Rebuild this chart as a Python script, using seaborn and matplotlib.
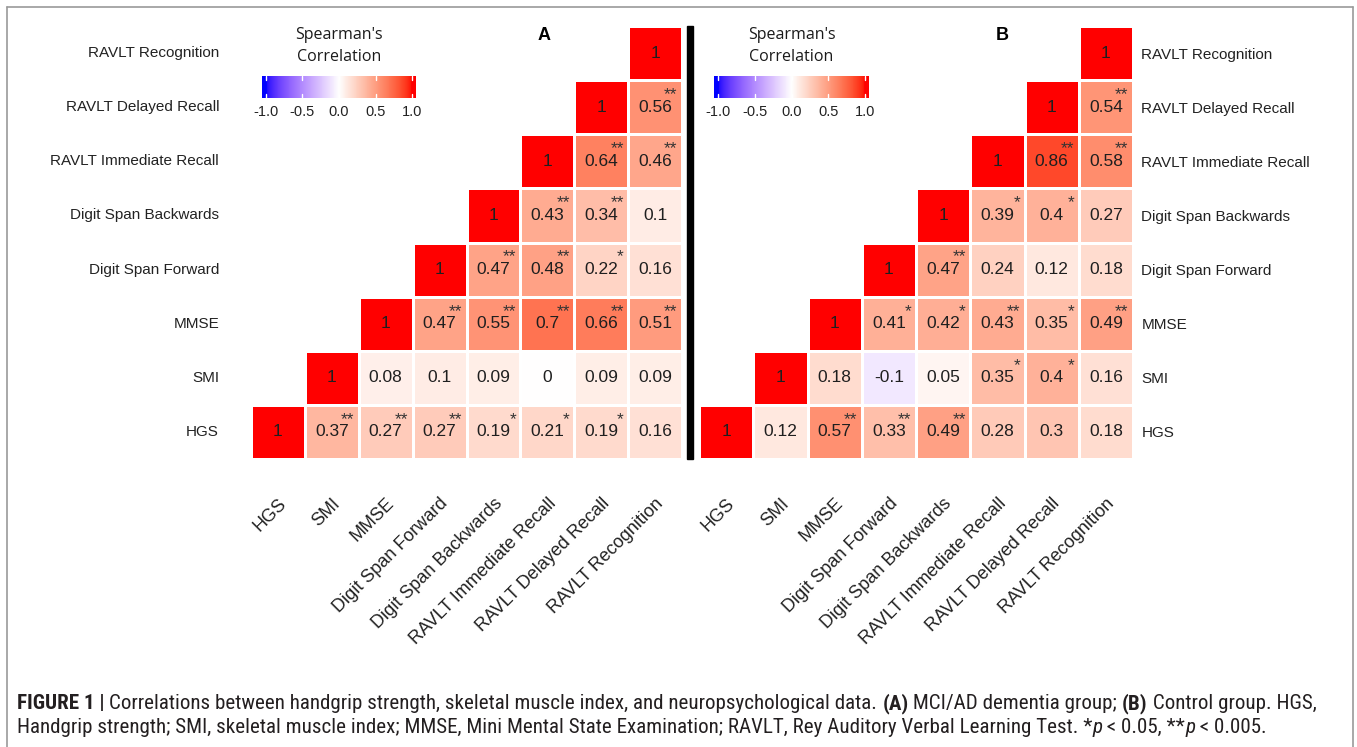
import numpy as np
import pandas as pd
import seaborn as sns
import matplotlib
matplotlib.use("Agg")
import matplotlib.pyplot as plt
from matplotlib import font_manager
from matplotlib.colors import ListedColormap
from matplotlib.lines import Line2D
from matplotlib.patches import Rectangle

# variables, from HGS (bottom row / first column) up to RAVLT Recognition
variables = ["HGS", "SMI", "MMSE", "Digit Span Forward", "Digit Span Backwards",
             "RAVLT Immediate Recall", "RAVLT Delayed Recall", "RAVLT Recognition"]

# each row starts at the diagonal and goes right
corr_a = [
    [1, 0.37, 0.27, 0.27, 0.19, 0.21, 0.19, 0.16],
    [1, 0.08, 0.1, 0.09, 0, 0.09, 0.09],
    [1, 0.47, 0.55, 0.7, 0.66, 0.51],
    [1, 0.47, 0.48, 0.22, 0.16],
    [1, 0.43, 0.34, 0.1],
    [1, 0.64, 0.46],
    [1, 0.56],
    [1],
]
stars_a = [
    ["", "**", "**", "**", "*", "*", "*", ""],
    ["", "", "", "", "", "", ""],
    ["", "**", "**", "**", "**", "**"],
    ["", "**", "**", "*", ""],
    ["", "**", "**", ""],
    ["", "**", "**"],
    ["", "**"],
    [""],
]

corr_b = [
    [1, 0.12, 0.57, 0.33, 0.49, 0.28, 0.3, 0.18],
    [1, 0.18, -0.1, 0.05, 0.35, 0.4, 0.16],
    [1, 0.41, 0.42, 0.43, 0.35, 0.49],
    [1, 0.47, 0.24, 0.12, 0.18],
    [1, 0.39, 0.4, 0.27],
    [1, 0.86, 0.58],
    [1, 0.54],
    [1],
]
stars_b = [
    ["", "", "**", "**", "**", "", "", ""],
    ["", "", "", "", "*", "*", ""],
    ["", "*", "*", "**", "*", "**"],
    ["", "**", "", "", ""],
    ["", "*", "*", ""],
    ["", "**", "**"],
    ["", "**"],
    [""],
]

cbar_ticks = [-1.0, -0.5, 0.0, 0.5, 1.0]

caption_1 = [("FIGURE 1 | ", "bold", "normal"),
             ("Correlations between handgrip strength, skeletal muscle index, and neuropsychological data. ", "normal", "normal"),
             ("(A)", "bold", "normal"), (" MCI/AD dementia group; ", "normal", "normal"),
             ("(B)", "bold", "normal"), (" Control group. HGS,", "normal", "normal")]
caption_2 = [("Handgrip strength; SMI, skeletal muscle index; MMSE, Mini Mental State Examination; RAVLT, Rey Auditory Verbal Learning Test. *", "normal", "normal"),
             ("p", "normal", "italic"), (" < 0.05, **", "normal", "normal"),
             ("p", "normal", "italic"), (" < 0.005.", "normal", "normal")]

W, H = 1357, 747


def box(l, t, r, b):
    return [l / W, 1 - b / H, (r - l) / W, (b - t) / H]


# blue - white - red ramp interpolated in CIELAB (like ggplot's gradient2)
M = np.array([[0.4124, 0.3576, 0.1805], [0.2126, 0.7152, 0.0722], [0.0193, 0.1192, 0.9505]])
WHITE = np.array([0.95047, 1.0, 1.08883])


def to_lab(rgb):
    c = np.array(rgb, float)
    lin = np.where(c <= 0.04045, c / 12.92, ((c + 0.055) / 1.055) ** 2.4)
    xyz = M @ lin / WHITE
    f = np.where(xyz > 0.008856, np.cbrt(xyz), 7.787 * xyz + 16 / 116)
    return np.array([116 * f[1] - 16, 500 * (f[0] - f[1]), 200 * (f[1] - f[2])])


def from_lab(lab):
    fy = (lab[0] + 16) / 116
    f = np.array([fy + lab[1] / 500, fy, fy - lab[2] / 200])
    xyz = np.where(f ** 3 > 0.008856, f ** 3, (f - 16 / 116) / 7.787) * WHITE
    lin = np.clip(np.linalg.solve(M, xyz), 0, 1)
    c = np.where(lin <= 0.0031308, 12.92 * lin, 1.055 * lin ** (1 / 2.4) - 0.055)
    return np.clip(c, 0, 1)


lab_blue, lab_white, lab_red = to_lab([0, 0, 1]), to_lab([1, 1, 1]), to_lab([1, 0, 0])
ramp = []
for t in np.linspace(-1, 1, 256):
    if t < 0:
        ramp.append(from_lab(lab_blue + (t + 1) * (lab_white - lab_blue)))
    else:
        ramp.append(from_lab(lab_white + t * (lab_red - lab_white)))
cmap = ListedColormap(ramp)

# caption font: a narrow face if one is there
names = {f.name for f in font_manager.fontManager.ttflist}
cap_font = "Liberation Sans"
for nm in ["Liberation Sans Narrow", "Roboto Condensed", "Roboto"]:
    if nm in names:
        cap_font = nm
        break

sns.set_theme(style="white")
plt.rcParams["font.family"] = ["Liberation Sans", "DejaVu Sans"]

fig = plt.figure(figsize=(W / 100, H / 100), dpi=100)
fig.patch.set_facecolor("white")


def panel(corr, stars, ax_box, cb_box, letter, letter_x, side):
    n = len(variables)
    mat = np.full((n, n), np.nan)
    lab = np.full((n, n), "", dtype=object)
    for i, row in enumerate(corr):
        for k, v in enumerate(row):
            mat[i, i + k] = v
            lab[i, i + k] = f"{v:g}"
    df = pd.DataFrame(mat, index=variables, columns=variables).iloc[::-1]
    annot = pd.DataFrame(lab, index=variables, columns=variables).iloc[::-1]

    ax = fig.add_axes(box(*ax_box))
    sns.heatmap(df, mask=df.isnull(), cmap=cmap, vmin=-1, vmax=1, annot=annot, fmt="",
                cbar=False, linewidths=1, linecolor="white", ax=ax,
                annot_kws={"size": 12.5, "color": "#1f1f1f"})
    # significance stars, top right of the cell
    for i, row in enumerate(stars):
        r = n - 1 - i
        for k, s in enumerate(row):
            if s:
                ax.text(i + k + 0.92, r + 0.27, s, ha="right", va="center",
                        fontsize=12.5, color="#333333")
    ax.set_xlabel("")
    ax.set_ylabel("")
    ax.set_xticks(np.arange(n) + 0.5)
    ax.set_xticklabels(variables, rotation=45, ha="right", va="top",
                       rotation_mode="anchor", fontsize=13, color="#222222")
    ax.set_yticks(np.arange(n) + 0.5)
    ax.set_yticklabels(variables[::-1], rotation=0, fontsize=11, color="#222222")
    ax.tick_params(axis="x", length=0, pad=26)
    if side == "right":
        ax.yaxis.tick_right()
        ax.tick_params(axis="y", length=0, pad=6)
    else:
        ax.tick_params(axis="y", length=0, pad=23)

    # colour key
    cax = fig.add_axes(box(*cb_box))
    cax.imshow(np.linspace(-1.05, 1.05, 256).reshape(1, -1), aspect="auto", cmap=cmap,
               vmin=-1, vmax=1, extent=(-1.05, 1.05, 0, 1))
    for v in cbar_ticks:
        cax.plot([v, v], [0, 0.18], color="white", lw=1)
        cax.plot([v, v], [0.82, 1], color="white", lw=1)
    cax.set_xlim(-1.05, 1.05)
    cax.set_ylim(0, 1)
    cax.set_xticks(cbar_ticks)
    cax.set_xticklabels([f"{v:.1f}" for v in cbar_ticks], fontsize=10.5, color="#222222")
    cax.set_yticks([])
    cax.tick_params(axis="x", length=0, pad=5)
    for sp in cax.spines.values():
        sp.set_visible(False)
    cx = (cb_box[0] + cb_box[2]) / 2
    fig.text(cx / W, 1 - 35 / H, "Spearman's", ha="center", va="center",
             fontsize=11.5, family="Open Sans", color="#1a1a1a")
    fig.text(cx / W, 1 - 57 / H, "Correlation", ha="center", va="center",
             fontsize=11.5, family="Open Sans", color="#1a1a1a")
    fig.text(letter_x / W, 1 - 35 / H, letter, ha="center", va="center",
             fontsize=13, fontweight="bold", color="black")


panel(corr_a, stars_a, (251, 26, 682, 459), (262, 76, 416, 98), "A", 544, "left")
panel(corr_b, stars_b, (699, 26, 1133, 459), (714, 76, 869, 98), "B", 1002, "right")

# black separator between the panels
fig.add_artist(Rectangle((687 / W, 1 - 459 / H), 6 / W, 433 / H, color="black",
                         transform=fig.transFigure))

# grey frame (open at the bottom)
for xs, ys in [([7, 7], [7, 747]), ([7, 1353], [7, 7]), ([1353, 1353], [7, 747])]:
    fig.add_artist(Line2D([x / W for x in xs], [1 - y / H for y in ys], color="#9a9a9a",
                          lw=1.2, transform=fig.transFigure))


def caption_line(segs, x, y, size):
    renderer = fig.canvas.get_renderer()
    items = []
    for s, w, st in segs:
        t = fig.text(x / W, 1 - y / H, s, fontsize=size, fontweight=w, style=st,
                     family=cap_font, color="#231f20", va="baseline", ha="left")
        items.append(t)
        x += t.get_window_extent(renderer).width
    return x, items


end, items = caption_line(caption_1, 17, 709, 12)
for t in items:
    t.remove()
size = 12 * (1318 - 17) / (end - 17)
caption_line(caption_1, 17, 709, size)
caption_line(caption_2, 17, 733, size)

fig.savefig("out.png", dpi=100)
